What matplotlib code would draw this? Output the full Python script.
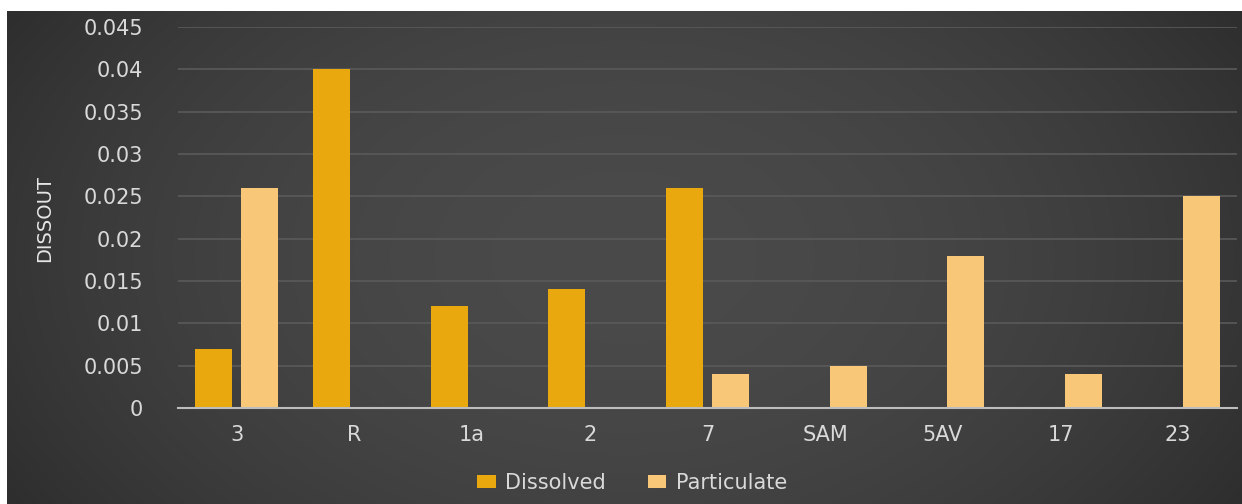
import matplotlib
matplotlib.use("Agg")
import matplotlib.pyplot as plt
import numpy as np

categories = ["3", "R", "1a", "2", "7", "SAM", "5AV", "17", "23"]
dissolved = [0.007, 0.040, 0.012, 0.014, 0.026, 0.0, 0.0, 0.0, 0.0]
particulate = [0.026, 0.0, 0.0, 0.0, 0.004, 0.005, 0.018, 0.004, 0.025]
yticks = [0, 0.005, 0.01, 0.015, 0.02, 0.025, 0.03, 0.035, 0.04, 0.045]
ytick_labels = ["0", "0.005", "0.01", "0.015", "0.02", "0.025", "0.03", "0.035", "0.04", "0.045"]

W, H = 1242, 504
fig = plt.figure(figsize=(W / 100, H / 100), dpi=100)
fig.patch.set_facecolor("white")

# background gradient panel
bg = fig.add_axes([7 / W, 0, 1 - 7 / W, 493 / H], zorder=-10)
xs = np.linspace(-1, 1, 400)
ys = np.linspace(-1, 1, 200)
X, Y = np.meshgrid(xs, ys)
val = 0.29 - 0.08 * X ** 2 - 0.03 * Y ** 2
img = np.dstack([val, val, val])
bg.imshow(img, aspect="auto", extent=[0, 1, 0, 1], interpolation="bilinear")
bg.set_axis_off()

ax = fig.add_axes([178 / W, (H - 408) / H, 1059 / W, 381 / H])
ax.set_facecolor("none")

x = np.arange(len(categories))
w = 0.315
off = 0.195
c_dis = "#E9A80E"
c_par = "#F8C878"
ax.bar(x - off, dissolved, w, color=c_dis, label="Dissolved", zorder=3)
ax.bar(x + off, particulate, w, color=c_par, label="Particulate", zorder=3)

ax.set_xlim(-0.5, len(categories) - 0.5)
ax.set_ylim(0, 0.045)
ax.set_yticks(yticks)
ax.set_yticklabels(ytick_labels)
ax.set_xticks(x)
ax.set_xticklabels(categories)
ax.grid(axis="y", color="#5a5a5a", linewidth=1.2, zorder=0)
ax.set_axisbelow(True)
for s in ["top", "right", "left"]:
    ax.spines[s].set_visible(False)
ax.spines["bottom"].set_color("#bdbdbd")
ax.spines["bottom"].set_linewidth(1.5)
ax.spines["bottom"].set_zorder(4)
ax.tick_params(axis="both", length=0, colors="#d9d9d9", labelsize=15)
ax.tick_params(axis="y", pad=25)
ax.tick_params(axis="x", pad=12)

fig.text(45 / W, 1 - 219 / H, "DISSOUT", rotation=90, ha="center", va="center",
         color="#e6e6e6", fontsize=14,
         family=["Liberation Sans Narrow", "DejaVu Sans"])

fig.legend(loc="center", bbox_to_anchor=(632 / W, (H - 483) / H), ncol=2,
           frameon=False, fontsize=15, labelcolor="#d9d9d9",
           handlelength=0.9, handleheight=0.6, handletextpad=0.45, columnspacing=2.0)

fig.savefig("out.png", dpi=100, facecolor=fig.get_facecolor())
